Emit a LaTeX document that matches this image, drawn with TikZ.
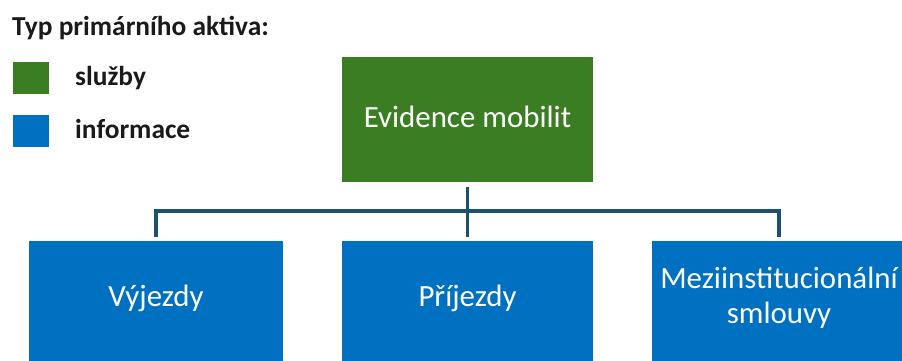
\documentclass[tikz,border=0pt]{standalone}
\usepackage{fontspec}
\setmainfont{Carlito}
\usetikzlibrary{calc}

\definecolor{svcgreen}{HTML}{3B7D23}
\definecolor{infoblue}{HTML}{0070C0}
\definecolor{linkline}{HTML}{1D4F6E}
\definecolor{legendtext}{HTML}{1A1A1A}

\tikzset{
  box/.style={rectangle, inner sep=0pt, minimum height=125bp},
  boxtext/.style={text=white, font=\fontsize{31}{36}\selectfont, inner sep=0pt, align=center},
  legsq/.style={rectangle, inner sep=0pt, minimum width=36bp, minimum height=32bp},
  legtext/.style={text=legendtext, font=\bfseries\fontsize{27.5}{32}\selectfont, inner sep=0pt, anchor=base west},
  conn/.style={draw=linkline, line width=3.5bp, line join=miter},
}

\begin{document}
\begin{tikzpicture}[x=1bp, y=-1bp]
  \clip (0,0) rectangle (902,360);
  \useasboundingbox (0,0) rectangle (902,360);
  \fill[white] (0,0) rectangle (902,360);

  % legend
  \node[legtext] (legtitle) at (12,35) {Typ primárního aktiva:};
  \node[legsq, fill=svcgreen] (legsvc) at (31,78) {};
  \node[legsq, fill=infoblue] (leginfo) at (31,131) {};
  \node[legtext] (legsvctext) at (75,85) {služby};
  \node[legtext] (leginfotext) at (75,138) {informace};

  % boxes
  \node[box, fill=svcgreen, minimum width=251bp] (root) at (467.5,119.5) {};
  \node[box, fill=infoblue, minimum width=254bp] (out) at (156,303.5) {};
  \node[box, fill=infoblue, minimum width=251bp] (in) at (467.5,303.5) {};
  \node[box, fill=infoblue, minimum width=254bp] (agr) at (779,303.5) {};

  % box captions
  \node[boxtext, anchor=base] (roottext) at (467.5,127) {Evidence mobilit};
  \node[boxtext, anchor=base] (outtext) at (156,306) {Výjezdy};
  \node[boxtext, anchor=base] (intext) at (467.5,306) {Příjezdy};
  \node[boxtext, anchor=base] (agrtext1) at (779,288) {Meziinstitucionální};
  \node[boxtext, anchor=base] (agrtext2) at (779,323) {smlouvy};

  % connectors
  \draw[conn, shorten <=5bp, shorten >=4bp] (root.south) -- (in.north);
  \draw[conn, shorten <=4bp, shorten >=4bp] (out.north) -- ++(0,-30) -| (agr.north);
\end{tikzpicture}
\end{document}
